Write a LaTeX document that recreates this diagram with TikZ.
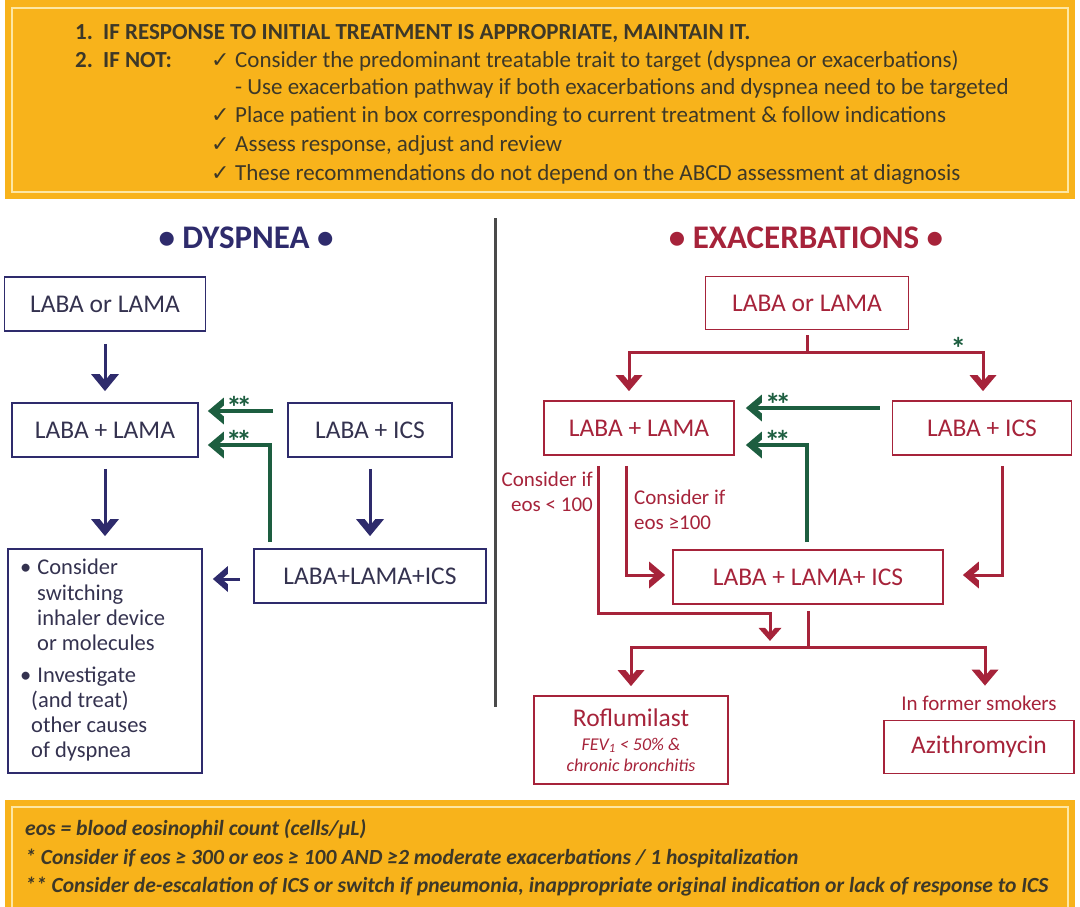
\documentclass[tikz,border=0pt]{standalone}
\usepackage{fontspec}
\setmainfont{Carlito}
\newfontfamily\tickfont{DejaVu Sans}
\usetikzlibrary{arrows.meta,positioning,calc}

\definecolor{banner}{HTML}{F8B31B}
\definecolor{bannerrule}{HTML}{FDE7A3}
\definecolor{bannertext}{HTML}{3D3828}
\definecolor{navy}{HTML}{2E2B6C}
\definecolor{navytext}{HTML}{34324F}
\definecolor{wine}{HTML}{A6233A}
\definecolor{pine}{HTML}{1D5E40}
\definecolor{rulegray}{HTML}{4A4A4A}

\newcommand{\boxfont}{\fontsize{25.5}{30}\selectfont}
\newcommand{\notefont}{\fontsize{23}{28}\selectfont}

% thick chevron tip
\pgfdeclarearrow{
  name=Chevron,
  parameters={\the\pgfarrowlength,\the\pgfarrowwidth,\the\pgfarrowinset},
  setup code={
    \pgfarrowssettipend{0pt}
    \pgfarrowssetlineend{-\pgfarrowinset-1pt}
    \pgfarrowssetbackend{-\pgfarrowlength}
    \pgfarrowshullpoint{0pt}{0pt}
    \pgfarrowsupperhullpoint{-\pgfarrowlength}{.5\pgfarrowwidth}
    \pgfarrowssavethe\pgfarrowlength
    \pgfarrowssavethe\pgfarrowwidth
    \pgfarrowssavethe\pgfarrowinset
  },
  drawing code={
    \pgfmathsetlengthmacro\chevcut{\pgfarrowwidth*\pgfarrowinset/(2*\pgfarrowlength)}
    \pgfpathmoveto{\pgfqpoint{0pt}{0pt}}
    \pgfpathlineto{\pgfpoint{-\pgfarrowlength}{.5\pgfarrowwidth}}
    \pgfpathlineto{\pgfpoint{-\pgfarrowlength}{.5\pgfarrowwidth-\chevcut}}
    \pgfpathlineto{\pgfpoint{-\pgfarrowinset}{0pt}}
    \pgfpathlineto{\pgfpoint{-\pgfarrowlength}{-.5\pgfarrowwidth+\chevcut}}
    \pgfpathlineto{\pgfpoint{-\pgfarrowlength}{-.5\pgfarrowwidth}}
    \pgfpathclose
    \pgfusepathqfill
  },
  defaults={length=17pt, width=28pt, inset=10pt}
}

\begin{document}
\begin{tikzpicture}[
x=1pt, y=-1pt,
navybox/.style={draw=navy, line width=1.8pt, text=navytext, font=\boxfont, inner sep=0pt},
winebox/.style={draw=wine, line width=1.8pt, text=wine, font=\boxfont, inner sep=0pt},
navyarrow/.style={draw=navy, line width=3pt, -{Chevron[length=17pt, width=28pt, inset=10.5pt]}},
navyleft/.style={draw=navy, line width=3pt, -{Chevron[length=15pt, width=26pt, inset=9pt]}},
pinearrow/.style={draw=pine, line width=3.4pt, line join=miter, -{Chevron[length=16pt, width=27pt, inset=9.5pt]}},
winearrow/.style={draw=wine, line width=3pt, line join=miter, -{Chevron[length=16pt, width=27pt, inset=9.5pt]}},
smallwine/.style={draw=wine, line width=3pt, line join=miter, -{Chevron[length=13pt, width=23pt, inset=7.5pt]}},
wineline/.style={draw=wine, line width=3pt},
stars/.style={text=pine, font=\bfseries\fontsize{31}{31}\selectfont, inner sep=0pt},
cond/.style={text=wine, font=\fontsize{21}{25}\selectfont, inner sep=0pt},
toptext/.style={text=bannertext, font=\notefont, inner sep=0pt, anchor=base west},
foot/.style={text=bannertext, font=\bfseries\itshape\fontsize{21.6}{25}\selectfont, inner sep=0pt, anchor=base west}
]
\useasboundingbox (0,0) rectangle (1080,907);

% banners
\fill[banner] (5,0) rectangle (1075,199);
\draw[bannerrule, line width=2pt] (12,8) rectangle (1068,192);
\fill[banner] (5,800) rectangle (1075,907);
\draw[bannerrule, line width=2pt] (12,807) rectangle (1068,915);

% top advice
\node[toptext, font=\notefont\bfseries] (keep) at (75,40) {\makebox[28pt][l]{1.}IF RESPONSE TO INITIAL TREATMENT IS APPROPRIATE, MAINTAIN IT.};
\node[toptext, font=\notefont\bfseries] (ifnot) at (75,68) {\makebox[28pt][l]{2.}IF NOT:};
\foreach \y/\txt [count=\i] in {68/{Consider the predominant treatable trait to target (dyspnea or exacerbations)},
    123/{Place patient in box corresponding to current treatment \& follow indications},
    151/{Assess response, adjust and review},
    180/{These recommendations do not depend on the ABCD assessment at diagnosis}} {
  \node[toptext, font=\tickfont\fontsize{22}{22}\selectfont] (tick-\i) at (211,\y) {✓};
  \node[toptext] (advice-\i) at (235,\y) {\txt};
}
\node[toptext] (pathway) at (235,95) {- Use exacerbation pathway if both exacerbations and dyspnea need to be targeted};

% divider
\coordinate (divTop) at (495,218);
\coordinate (divBottom) at (495,707);
\draw[rulegray, line width=3pt] (divTop) -- (divBottom);

% DYSPNEA
\node[text=navy, font=\bfseries\fontsize{33}{40}\selectfont] (dysHead) at (246,238) {\textbullet\ DYSPNEA \textbullet};
\node[navybox, minimum width=201, minimum height=54] (labaL) at (105,304) {LABA or LAMA};
\node[navybox, minimum width=186, minimum height=54] (lamaL) at (105,430) {LABA + LAMA};
\node[navybox, minimum width=164, minimum height=54] (icsL) at (370,430) {LABA + ICS};
\node[navybox, minimum width=232, minimum height=54] (tripleL) at (370,576) {LABA+LAMA+ICS};
\node[navybox, minimum width=194, minimum height=224] (switchL) at (105,661) {};
\node[text=navytext, font=\fontsize{22.5}{25.3}\selectfont, inner sep=0pt, anchor=north west, align=left] (switchText) at (20,559)
  {\textbullet\hspace{6pt}Consider\\
   \hspace*{17pt}switching\\
   \hspace*{17pt}inhaler device\\
   \hspace*{17pt}or molecules\\[6pt]
   \textbullet\hspace{6pt}Investigate\\
   \hspace*{11pt}(and treat)\\
   \hspace*{11pt}other causes\\
   \hspace*{11pt}of dyspnea};

\draw[navyarrow] ([yshift=-12]labaL.south) -- ([yshift=11]lamaL.north);
\draw[navyarrow] ([yshift=-11]lamaL.south) -- ([yshift=12]switchL.north);
\draw[navyarrow] ([yshift=-11]icsL.south) -- ([yshift=12]tripleL.north);
\draw[navyleft] ([xshift=-13,yshift=-3]tripleL.west) -- ([xshift=10,yshift=-3]switchL.east |- tripleL.west);
\draw[pinearrow] ([xshift=-14,yshift=19]icsL.west) -- node[stars, pos=0.52, above=-9pt] {*\kern-5pt*} ([xshift=9,yshift=19]lamaL.east);
\draw[pinearrow] ([xshift=-100,yshift=6]tripleL.north) |- node[stars, pos=0.75, above=-9pt] {*\kern-5pt*} ([xshift=9,yshift=-15]lamaL.east);

% EXACERBATIONS
\node[text=wine, font=\bfseries\fontsize{33}{40}\selectfont] (exaHead) at (806,238) {\textbullet\ EXACERBATIONS \textbullet};
\node[winebox, minimum width=203, minimum height=53] (labaR) at (807,303) {LABA or LAMA};
\node[winebox, minimum width=190, minimum height=54] (lamaR) at (639,428) {LABA + LAMA};
\node[winebox, minimum width=179, minimum height=54] (icsR) at (982,428) {LABA + ICS};
\node[winebox, minimum width=270, minimum height=54] (tripleR) at (808,577) {LABA + LAMA+ ICS};
\node[winebox, minimum width=194, minimum height=88, align=center] (roflu) at (631,740)
  {Roflumilast\\[-6pt]
   {\fontsize{18}{18}\selectfont\itshape FEV\textsubscript{1} < 50\% \&}\\[-9pt]
   {\fontsize{18}{18}\selectfont\itshape chronic bronchitis}};
\node[cond] (smokers) at (979,703) {In former smokers};
\node[winebox, minimum width=190, minimum height=53] (azi) at (979,747) {Azithromycin};
\node[cond, anchor=east, align=right] (eosLow) at (593,492) {Consider if\\eos < 100};
\node[cond, anchor=west, align=left] (eosHigh) at (634,510) {Consider if\\eos ≥100};

\coordinate (splitTop) at ([yshift=-22]labaR.south);
\coordinate (mergeLow) at ([xshift=-38,yshift=-36]tripleR.south);
\coordinate (splitLow) at ([yshift=-43]tripleR.south);

\draw[wineline] ([yshift=-5]labaR.south) -- (splitTop);
\draw[winearrow] (splitTop) -| ([xshift=-10,yshift=9]lamaR.north);
\draw[winearrow] (splitTop) -| node[stars, pos=0.43, above=-9pt] {*} ([xshift=1,yshift=9]icsR.north);
\draw[smallwine] ([xshift=-41,yshift=-10]lamaR.south) -- ++(0,148) -| (mergeLow);
\draw[winearrow] ([xshift=-13,yshift=-10]lamaR.south) |- ([xshift=-7,yshift=2]tripleR.west);
\draw[winearrow] ([xshift=20,yshift=-10]icsR.south) |- ([xshift=19,yshift=2]tripleR.east);
\draw[wineline] ([yshift=-6]tripleR.south) -- (splitLow);
\draw[winearrow] (splitLow) -| ([yshift=9]roflu.north);
\draw[winearrow] (splitLow) -| ([xshift=6,yshift=34]azi.north);
\draw[pinearrow] ([xshift=-12,yshift=20]icsR.west) -- node[stars, pos=0.76, above=-9pt] {*\kern-5pt*} ([xshift=11,yshift=20]lamaR.east);
\draw[pinearrow] ([xshift=-1,yshift=7]tripleR.north) |- node[stars, pos=0.74, above=-9pt] {*\kern-5pt*} ([xshift=11,yshift=-17]lamaR.east);

% footnotes
\node[foot] (eosDef) at (25,835) {eos = blood eosinophil count (cells/µL)};
\node[foot] (starOne) at (25,864) {* Consider if eos ≥ 300 or eos ≥ 100 AND ≥2 moderate exacerbations / 1 hospitalization};
\node[foot] (starTwo) at (25,892) {** Consider de-escalation of ICS or switch if pneumonia, inappropriate original indication or lack of response to ICS};

\end{tikzpicture}
\end{document}
